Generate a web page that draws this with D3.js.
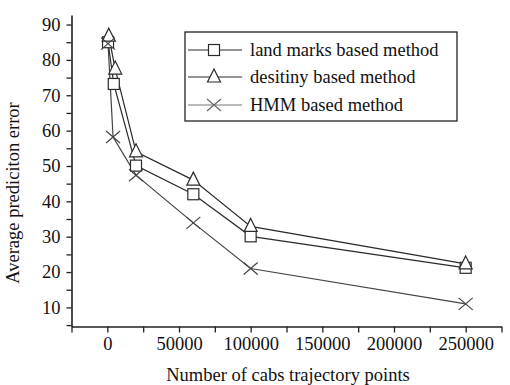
<!DOCTYPE html>
<html>
<head>
<meta charset="utf-8">
<script src="https://cdn.jsdelivr.net/npm/d3@7"></script>
<style>
  html, body { margin: 0; padding: 0; background: #fff; }
  svg, svg text { font-family: "Liberation Serif", "DejaVu Serif", "Times New Roman", serif !important; }
  svg text { fill: #111; }
</style>
</head>
<body>
<svg id="chart" width="510" height="385" font-family="Liberation Serif"></svg>
<script>
// Average prediction error vs. number of cab trajectory points
const seriesNames = ["land marks based method", "desitiny based method", "HMM based method"];
const landmarkX = [500, 4500, 20000, 60000, 100000, 250000];
const landmarkY = [85.0, 73.2, 50.1, 42.0, 30.1, 21.2];
const densityX  = [1000, 5500, 20000, 60000, 100000, 250000];
const densityY  = [86.7, 77.4, 54.0, 46.0, 32.9, 22.3];
const hmmX      = [500, 4000, 20000, 60000, 100000, 250000];
const hmmY      = [84.6, 58.2, 47.4, 33.9, 21.0, 11.0];
const xTickValues = [0, 50000, 100000, 150000, 200000, 250000];
const yTickValues = [10, 20, 30, 40, 50, 60, 70, 80, 90];

const svg = d3.select("#chart");
const x = d3.scaleLinear().domain([-25000, 275000]).range([71.5, 501.5]);
const y = d3.scaleLinear().domain([4.6, 92.7]).range([326.5, 15]);

const axisColor = "#222";
const serif = "Liberation Serif, DejaVu Serif, serif";

// x axis: labelled majors plus unlabelled minors every 25000
const xAxis = svg.append("g").attr("transform", `translate(0,${y.range()[0]})`)
  .call(d3.axisBottom(x).tickValues(d3.range(-25000, 275001, 25000))
    .tickSize(6).tickSizeOuter(0)
    .tickFormat(d => xTickValues.includes(d) ? d3.format("d")(d) : ""));
xAxis.attr("font-family", serif).attr("font-size", 18.5);
xAxis.select(".domain").attr("stroke", axisColor).attr("stroke-width", 1.6);
xAxis.selectAll(".tick line").attr("stroke", axisColor).attr("stroke-width", 1.3);
xAxis.selectAll(".tick text").attr("dy", "0.78em").attr("fill", "#111");

// y axis: labelled majors plus unlabelled minors every 5
const yAxis = svg.append("g").attr("transform", `translate(${x.range()[0]},0)`)
  .call(d3.axisLeft(y).tickValues(d3.range(5, 91, 5))
    .tickSize(5).tickSizeOuter(0)
    .tickFormat(d => yTickValues.includes(d) ? d : ""));
yAxis.attr("font-family", serif).attr("font-size", 18.5);
yAxis.select(".domain").attr("stroke", axisColor).attr("stroke-width", 1.6);
yAxis.selectAll(".tick line").attr("stroke", axisColor).attr("stroke-width", 1.3);
yAxis.selectAll(".tick text").attr("x", -11).attr("fill", "#111");

// axis titles
svg.append("text").attr("x", 288).attr("y", 381).attr("text-anchor", "middle")
  .attr("font-family", serif).attr("font-size", 18.5).text("Number of cabs trajectory points");
svg.append("text").attr("transform", "translate(19,193) rotate(-90)")
  .attr("text-anchor", "middle").attr("font-family", serif).attr("font-size", 18.5)
  .text("Average prediciton error");

// markers
function square(g, cx, cy, stroke) {
  g.append("rect").attr("x", cx - 5.5).attr("y", cy - 5.5).attr("width", 11).attr("height", 11)
    .attr("fill", "#fff").attr("stroke", stroke).attr("stroke-width", 1.2);
}
function triangle(g, cx, cy, stroke) {
  g.append("path").attr("d", `M${cx},${cy - 8}L${cx + 6.5},${cy + 5}L${cx - 6.5},${cy + 5}Z`)
    .attr("fill", "#fff").attr("stroke", stroke).attr("stroke-width", 1.2);
}
function cross(g, cx, cy, stroke) {
  g.append("path").attr("d", `M${cx - 7},${cy - 6}L${cx + 7},${cy + 6}M${cx - 7},${cy + 6}L${cx + 7},${cy - 6}`)
    .attr("fill", "none").attr("stroke", stroke).attr("stroke-width", 1.2);
}

const series = [
  { xs: landmarkX, ys: landmarkY, marker: square,   color: "#2a2a2a" },
  { xs: densityX,  ys: densityY,  marker: triangle, color: "#2a2a2a" },
  { xs: hmmX,      ys: hmmY,      marker: cross,    color: "#444" }
];

const line = d3.line().x(d => x(d[0])).y(d => y(d[1]));
const plot = svg.append("g");
series.forEach(s => {
  const pts = s.xs.map((v, i) => [v, s.ys[i]]);
  plot.append("path").datum(pts).attr("d", line)
    .attr("fill", "none").attr("stroke", s.color).attr("stroke-width", 1.2);
});
series.forEach(s => {
  const g = plot.append("g");
  s.xs.forEach((v, i) => s.marker(g, x(v), y(s.ys[i]), s.color));
});

// legend
const legend = svg.append("g");
legend.append("rect").attr("x", 185).attr("y", 32).attr("width", 272).attr("height", 89)
  .attr("fill", "#fff").attr("stroke", "#222").attr("stroke-width", 1.3);
const legendRows = [50, 77, 105];
series.forEach((s, i) => {
  const ry = legendRows[i];
  legend.append("line").attr("x1", 188).attr("x2", 242).attr("y1", ry).attr("y2", ry)
    .attr("stroke", i === 2 ? "#777" : "#2a2a2a").attr("stroke-width", 1.2);
  s.marker(legend, 214, ry, i === 2 ? "#666" : "#2a2a2a");
  legend.append("text").attr("x", 250).attr("y", ry + 6).attr("font-family", serif)
    .attr("font-size", 18.5).text(seriesNames[i]);
});
</script>
</body>
</html>
